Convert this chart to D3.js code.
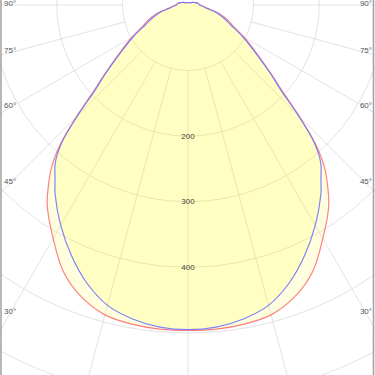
<!DOCTYPE html>
<html><head><meta charset="utf-8">
<script src="https://cdn.jsdelivr.net/npm/d3@7"></script>
<style>html,body{margin:0;padding:0;background:#fff}svg{display:block}</style>
</head><body>
<svg id="c" width="375" height="375"></svg>
<script>
// gamma angles (degrees from nadir) and luminous intensity (cd) per plane
const gammas = [0,5,10,15,20,25,30,35,37.5,40,42.5,45,47.5,50,55,60,65,70,75,80,85,90,100,110,120,135,150,165,180];
const planeC0  = [496,496,494,489,474,449,411,374,350,324,288,240,196,168,127,99,76,63,48,30,23,18,15,11,8,5,4.2,3.9,3.8];
const planeC90 = [495,493,486,474,451,421,388,353,333,315,285,237,192,166,124,96,72,58,45,29,23,18,15,11,8,5,4.2,3.9,3.8];
const ringValues = [100,200,300,400,500,600];
const ringLabels = ["200","300","400"];
const spokeAngles = [0,15,30,45,60,75,90];
const angleLabels = ["90°","75°","60°","45°","30°"];

const W = 375, H = 375, cx = 188, cy = 5;
const svg = d3.select("#c");
const r = d3.scaleLinear().domain([0, 600]).range([0, 600 * 0.656]);
const rad = d => d * Math.PI / 180;
const g = svg.append("g").attr("transform", `translate(${cx},${cy})`);

// rings
g.selectAll("circle.ring").data(ringValues).join("circle")
  .attr("r", d => r(d)).attr("fill", "none")
  .attr("stroke", "#e2e2e2").attr("stroke-width", 1);

// spokes (both sides), from the 100 ring outward
const spokes = [];
spokeAngles.forEach(a => { spokes.push(a); if (a !== 0) spokes.push(-a); });
g.selectAll("line.spoke").data(spokes).join("line")
  .attr("x1", d => r(100) * Math.sin(rad(d)))
  .attr("y1", d => r(100) * Math.cos(rad(d)))
  .attr("x2", d => 700 * Math.sin(rad(d)))
  .attr("y2", d => 700 * Math.cos(rad(d)))
  .attr("stroke", "#e2e2e2").attr("stroke-width", 1);

// build closed curve: left side (gamma 180 -> 0) then right side (0 -> 180)
function pts(vals) {
  const out = [];
  for (let i = gammas.length - 1; i >= 0; i--) out.push([Math.PI + rad(gammas[i]), r(vals[i])]);
  for (let i = 1; i < gammas.length - 1; i++) out.push([Math.PI - rad(gammas[i]), r(vals[i])]);
  return out;
}
const line = d3.lineRadial().angle(d => d[0]).radius(d => d[1]).curve(d3.curveCatmullRomClosed.alpha(0.5));

const series = [
  {vals: planeC0, stroke: "#ff7373"},
  {vals: planeC90, stroke: "#7373ff"}
];
series.forEach(s => {
  g.append("path").attr("d", line(pts(s.vals)))
    .attr("fill", "#ffff00").attr("fill-opacity", 0.125).attr("stroke", "none");
});
series.forEach(s => {
  g.append("path").attr("d", line(pts(s.vals)))
    .attr("fill", "none").attr("stroke", s.stroke).attr("stroke-width", 1.2)
    .attr("stroke-opacity", 0.9);
});

// ring labels
g.selectAll("text.rl").data(ringLabels).join("text")
  .attr("x", 0).attr("y", d => r(+d))
  .attr("text-anchor", "middle").attr("dominant-baseline", "central")
  .attr("font-family", "Liberation Sans, Arial, sans-serif").attr("font-size", 8)
  .attr("fill", "#444").text(d => d);

// angle labels at the left and right edges, on their spokes
const lblAngles = [90,75,60,45,30];
lblAngles.forEach((a, i) => {
  const dx = cx - 10;
  const yy = a === 90 ? cy : cy + dx / Math.tan(rad(a));
  svg.append("text").attr("x", 4).attr("y", yy - 2)
    .attr("dominant-baseline", "central")
    .attr("font-family", "Liberation Sans, Arial, sans-serif").attr("font-size", 8)
    .attr("fill", "#555").text(angleLabels[i]);
  svg.append("text").attr("x", 372).attr("y", yy - 2)
    .attr("text-anchor", "end").attr("dominant-baseline", "central")
    .attr("font-family", "Liberation Sans, Arial, sans-serif").attr("font-size", 8)
    .attr("fill", "#555").text(angleLabels[i]);
});

// side borders
svg.append("line").attr("x1", 1).attr("x2", 1).attr("y1", 0).attr("y2", H)
  .attr("stroke", "#a0a0a0").attr("stroke-width", 1.5);
svg.append("line").attr("x1", 373.5).attr("x2", 373.5).attr("y1", 0).attr("y2", H)
  .attr("stroke", "#a0a0a0").attr("stroke-width", 1.5);
</script>
</body></html>
